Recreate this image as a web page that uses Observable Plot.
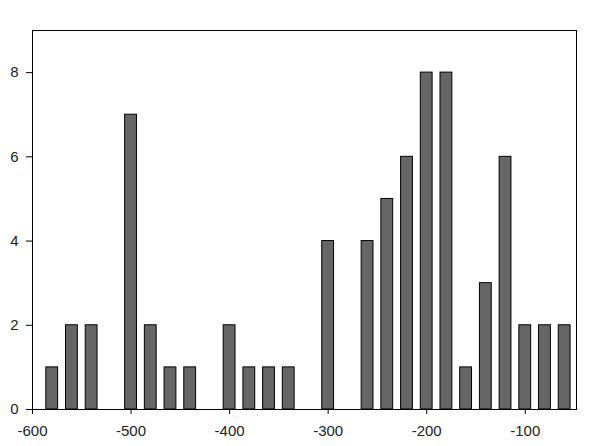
<!DOCTYPE html>
<html>
<head>
<meta charset="utf-8">
<script src="https://cdn.jsdelivr.net/npm/d3@7"></script>
<script src="https://cdn.jsdelivr.net/npm/@observablehq/plot@0.6"></script>
<style>
  body { margin: 0; background: #fff; }
  svg { font-family: Arial, "Liberation Sans", sans-serif; }
</style>
</head>
<body>
<div id="chart"></div>
<script>
const bins = [-580, -560, -540, -500, -480, -460, -440, -400, -380, -360, -340, -300, -260, -240, -220, -200, -180, -160, -140, -120, -100, -80, -60];
const counts = [1, 2, 2, 7, 2, 1, 1, 2, 1, 1, 1, 4, 4, 5, 6, 8, 8, 1, 3, 6, 2, 2, 2];
const xTicks = [-600, -500, -400, -300, -200, -100];
const yTicks = [0, 2, 4, 6, 8];

const data = bins.map((b, i) => ({x: b, y: counts[i]}));
const halfWidth = 6;

const chart = Plot.plot({
  width: 589,
  height: 446,
  marginLeft: 32,
  marginRight: 13,
  marginTop: 30,
  marginBottom: 37,
  style: {fontSize: "15px", fontFamily: "Arial, 'Liberation Sans', sans-serif", color: "#222", background: "#fff"},
  x: {domain: [-600, -48], label: null},
  y: {domain: [0, 9], label: null},
  marks: [
    Plot.rectY(data, {x1: d => d.x - halfWidth, x2: d => d.x + halfWidth, y: "y", fill: "#666666", stroke: "#000", strokeWidth: 1}),
    Plot.frame({stroke: "#000", strokeWidth: 1}),
    Plot.axisX({ticks: xTicks, tickFormat: d => String(d), tickSize: 5, tickPadding: 11, label: null, stroke: "#000"}),
    Plot.axisY({ticks: yTicks, tickSize: 6, tickPadding: 8, label: null, stroke: "#000"})
  ]
});
document.getElementById("chart").appendChild(chart);
</script>
</body>
</html>
